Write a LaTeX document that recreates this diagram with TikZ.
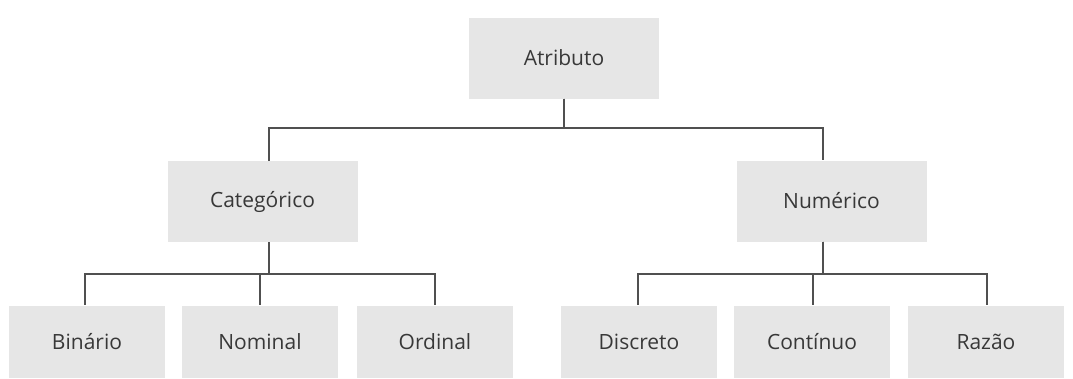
\documentclass[tikz,border=0pt]{standalone}
\usepackage{fontspec}
\setmainfont{Open Sans}
\usetikzlibrary{calc}
\begin{document}
\begin{tikzpicture}[x=1pt,y=-1pt,
  box/.style={fill=boxgray,draw=none,inner sep=0pt,font=\fontsize{21}{24}\selectfont,text=textgray},
  top/.style={box,minimum width=190pt,minimum height=81pt},
  leaf/.style={box,minimum width=156pt,minimum height=72pt},
  conn/.style={draw=linegray,line width=1.6pt}]
\definecolor{boxgray}{HTML}{E6E6E6}
\definecolor{textgray}{HTML}{383838}
\definecolor{linegray}{HTML}{505050}
\useasboundingbox (0,0) rectangle (1073,378);
\node[top] (atr) at (564,58) {Atributo};
\node[top] (cat) at (262.5,201.5) {Categórico};
\node[top] (num) at (831.5,201) {Numérico};
\node[leaf] (bin) at (87,341.5) {Binário};
\node[leaf] (nom) at (260,341.5) {Nominal};
\node[leaf] (ord) at (435,341.5) {Ordinal};
\node[leaf] (dis) at (639,341.5) {Discreto};
\node[leaf] (con) at (812,341.5) {Contínuo};
\node[leaf] (raz) at (986,341.5) {Razão};
% connectors
\coordinate (catin) at ($(cat.north)+(6.5,0)$);
\coordinate (catout) at ($(cat.south)+(6.5,0)$);
\coordinate (numin) at ($(num.north)+(-8.5,0)$);
\coordinate (numout) at ($(num.south)+(-8.5,0)$);
\draw[conn] (atr.south) -- ++(0,29) -| (catin);
\draw[conn] (atr.south) -- ++(0,29) -| (numin);
\draw[conn] (catout) -- ++(0,32) -| ($(bin.north)+(-2,0)$);
\draw[conn] (catout) -- ++(0,32) -| (nom.north);
\draw[conn] (catout) -- ++(0,32) -| (ord.north);
\draw[conn] (numout) -- ++(0,32) -| ($(dis.north)+(-1,0)$);
\draw[conn] (numout) -- ++(0,32) -| ($(con.north)+(1,0)$);
\draw[conn] (numout) -- ++(0,32) -| ($(raz.north)+(1,0)$);
\end{tikzpicture}
\end{document}
